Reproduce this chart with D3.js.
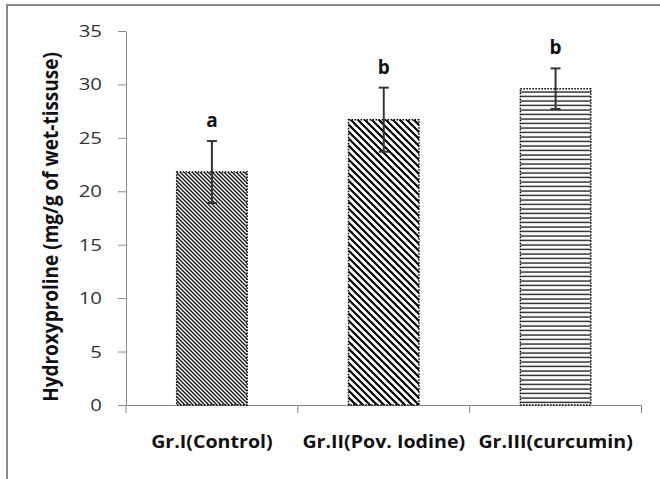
<!DOCTYPE html>
<html><head><meta charset="utf-8">
<script src="https://cdn.jsdelivr.net/npm/d3@7"></script>
<style>body{margin:0;background:#fff}svg{display:block}</style>
</head><body>
<script>
const categories = ["Gr.I(Control)", "Gr.II(Pov. Iodine)", "Gr.III(curcumin)"];
const values = [21.8, 26.7, 29.6];
const errors = [2.9, 3.0, 1.9];
const letters = ["a", "b", "b"];
const yTicks = [0, 5, 10, 15, 20, 25, 30, 35];
const yLabel = "Hydroxyproline (mg/g of wet-tissuse)";

const W = 660, H = 479;
const FONT = "'Open Sans', sans-serif";
const svg = d3.select("body").append("svg").attr("width", W).attr("height", H);
const defs = svg.append("defs");

// patterns
const p1 = defs.append("pattern").attr("id","pat0").attr("patternUnits","userSpaceOnUse").attr("width",4).attr("height",4);
p1.append("rect").attr("width",4).attr("height",4).attr("fill","#fff");
p1.append("path").attr("d","M-1,-1 L5,5 M-1,3 L1,5 M3,-1 L5,1").attr("stroke","#1a1a1a").attr("stroke-width",1.4);

const p2 = defs.append("pattern").attr("id","pat1").attr("patternUnits","userSpaceOnUse").attr("width",7).attr("height",7);
p2.append("rect").attr("width",7).attr("height",7).attr("fill","#fff");
p2.append("path").attr("d","M-1,-1 L8,8 M-1,6 L1,8 M6,-1 L8,1").attr("stroke","#000").attr("stroke-width",2.2);

const p3 = defs.append("pattern").attr("id","pat2").attr("patternUnits","userSpaceOnUse").attr("width",8).attr("height",4.5);
p3.append("rect").attr("width",8).attr("height",4.5).attr("fill","#fff");
p3.append("line").attr("x1",0).attr("x2",8).attr("y1",2).attr("y2",2).attr("stroke","#111").attr("stroke-width",1.3);

// frame
svg.append("path").attr("d","M7,479 V5 H660").attr("fill","none").attr("stroke","#8a8a8a").attr("stroke-width",2);

const x0 = 126, x1 = 641.5, yTop = 31, yBot = 405;
const x = d3.scaleBand().domain(categories).range([x0, x1]).paddingInner(0).paddingOuter(0);
const y = d3.scaleLinear().domain([0, 35]).range([yBot, yTop]);
const barW = x.bandwidth() * 0.41;

// y axis
const sxT = 1.2;
const yAxis = svg.append("g").attr("transform",`translate(${x0},0)`)
  .call(d3.axisLeft(y).tickValues(yTicks).tickSize(8).tickPadding(16).tickSizeOuter(0));
yAxis.select(".domain").attr("stroke","#8a8a8a");
yAxis.selectAll(".tick line").attr("stroke","#8a8a8a");
yAxis.selectAll(".tick text").attr("font-family",FONT).attr("font-size",17).attr("fill","#333")
  .attr("x", -24 / sxT).attr("transform", `scale(${sxT},1)`);

// x axis
const sxX = 1.09;
const xAxis = svg.append("g").attr("transform",`translate(0,${yBot})`)
  .call(d3.axisBottom(x).tickSize(0).tickPadding(0));
xAxis.select(".domain").attr("stroke","#8a8a8a");
xAxis.selectAll(".tick text").attr("font-family",FONT).attr("font-size",18).attr("font-weight","bold").attr("fill","#111")
  .attr("dy", null).attr("y", 43).attr("transform", `scale(${sxX},1)`);
svg.append("g").selectAll("line").data([x0, ...categories.map(c => x(c) + x.bandwidth())]).join("line")
  .attr("x1", d => d).attr("x2", d => d).attr("y1", yBot).attr("y2", yBot + 8)
  .attr("stroke","#8a8a8a");

// bars
svg.append("g").selectAll("rect").data(values).join("rect")
  .attr("x", (d,i) => x(categories[i]) + (x.bandwidth() - barW)/2)
  .attr("y", d => y(d))
  .attr("width", barW)
  .attr("height", d => y(0) - y(d))
  .attr("fill", (d,i) => `url(#pat${i})`)
  .attr("stroke","#000").attr("stroke-width",1.5).attr("stroke-dasharray","1.5,1.5");

// error bars
const eg = svg.append("g").attr("stroke","#333").attr("stroke-width",2);
values.forEach((v,i) => {
  const cx = x(categories[i]) + x.bandwidth()/2;
  eg.append("line").attr("x1",cx).attr("x2",cx).attr("y1",y(v+errors[i])).attr("y2",y(v-errors[i]));
  eg.append("line").attr("x1",cx-5).attr("x2",cx+5).attr("y1",y(v+errors[i])).attr("y2",y(v+errors[i]));
  eg.append("line").attr("x1",cx-5).attr("x2",cx+5).attr("y1",y(v-errors[i])).attr("y2",y(v-errors[i]));
});

// letters
svg.append("g").selectAll("text").data(letters).join("text")
  .attr("x", (d,i) => x(categories[i]) + x.bandwidth()/2)
  .attr("y", (d,i) => y(values[i] + errors[i]) - 14)
  .attr("text-anchor","middle")
  .attr("font-family",FONT).attr("font-size",19).attr("font-weight","bold").attr("fill","#111")
  .text(d => d);

// y label
svg.append("text").attr("transform",`translate(58,227) scale(1.12,1) rotate(-90)`)
  .attr("text-anchor","middle")
  .attr("font-family",FONT).attr("font-size",19).attr("font-weight","bold").attr("fill","#111")
  .text(yLabel);
</script>
</body></html>
